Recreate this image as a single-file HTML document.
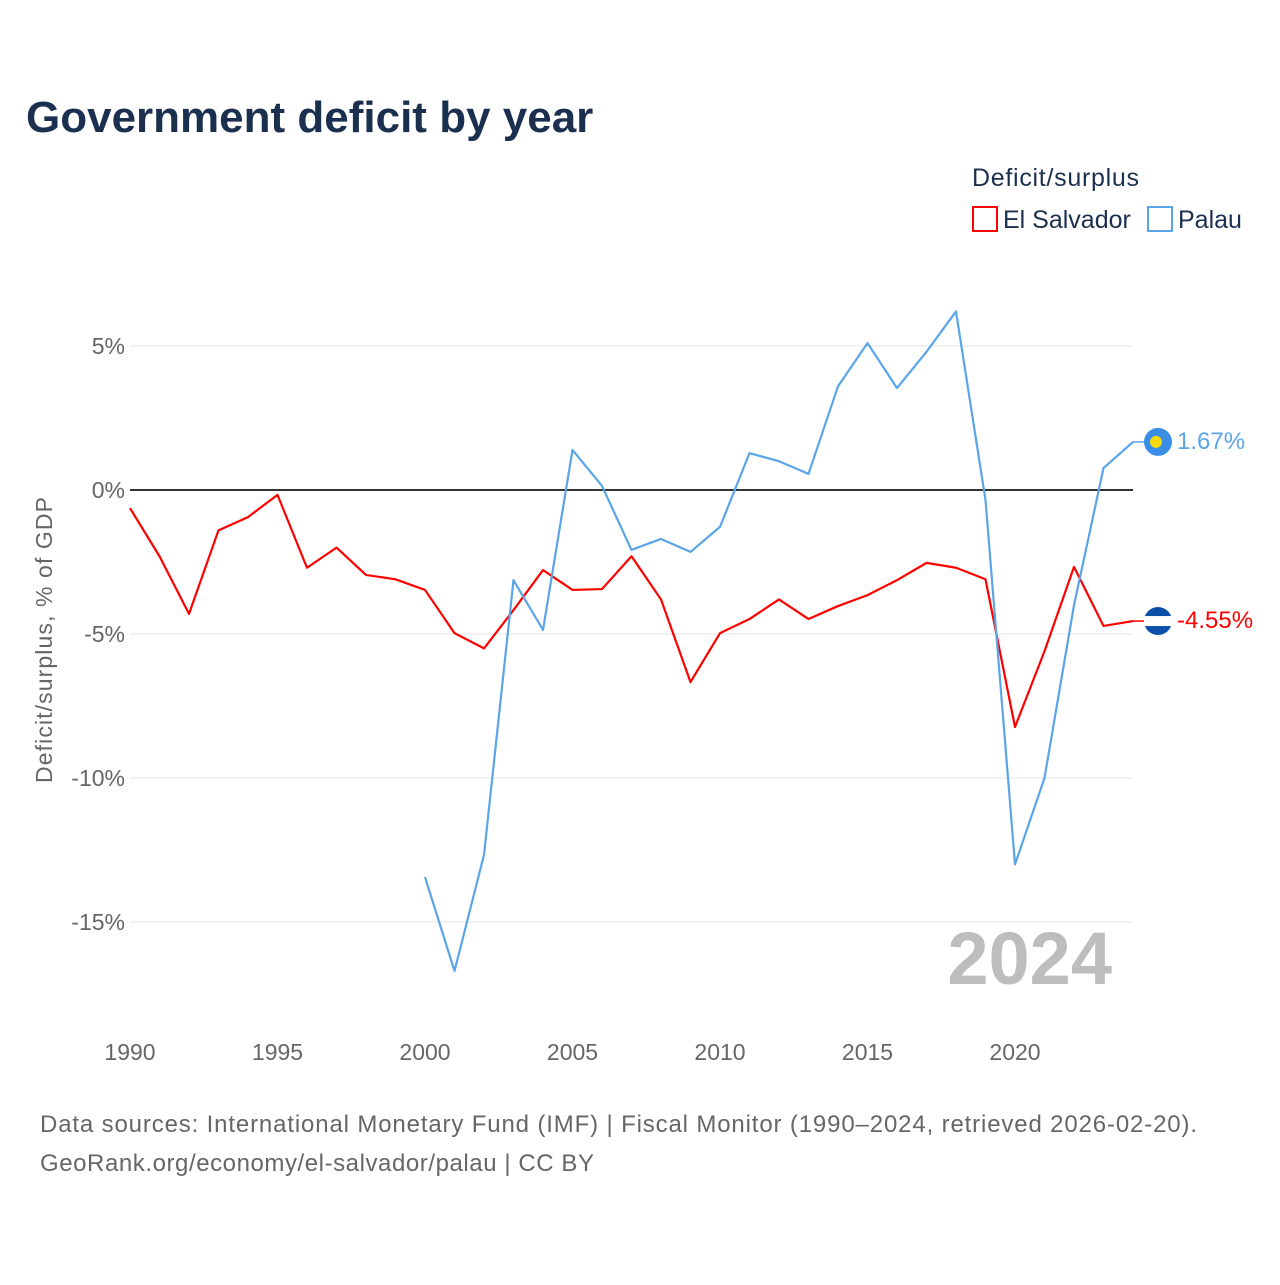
<!DOCTYPE html>
<html><head><meta charset="utf-8"><style>
body{margin:0;background:#fff;font-family:"Liberation Sans",sans-serif}
#wrap{position:relative;width:1280px;height:1280px}
</style></head><body>
<div id="wrap">
<svg id="chart" width="1280" height="1280" xmlns="http://www.w3.org/2000/svg">
<text x="26" y="132" font-size="44" font-weight="bold" fill="#1b2f4f">Government deficit by year</text>
<text x="972" y="186" font-size="25" fill="#1b2f4f" textLength="167">Deficit/surplus</text>
<g><rect x="973" y="207" width="24" height="24" fill="none" stroke="#ff0000" stroke-width="2"/><text x="1003" y="228" font-size="25" fill="#1b2f4f">El Salvador</text></g>
<g><rect x="1148" y="207" width="24" height="24" fill="none" stroke="#5aa5e8" stroke-width="2"/><text x="1178" y="228" font-size="25" fill="#1b2f4f">Palau</text></g>
<g id="grid"></g><g id="xt"></g><g id="series"></g>
<text transform="translate(52,640) rotate(-90)" text-anchor="middle" font-size="23" fill="#666" textLength="286">Deficit/surplus, % of GDP</text>
<text x="1112" y="984" text-anchor="end" font-size="74" font-weight="bold" fill="#bdbdbd">2024</text>
<text x="40" y="1132" font-size="24" fill="#666" textLength="1157">Data sources: International Monetary Fund (IMF) | Fiscal Monitor (1990–2024, retrieved 2026-02-20).</text>
<text x="40" y="1171" font-size="24" fill="#666" textLength="554">GeoRank.org/economy/el-salvador/palau | CC BY</text>
</svg></div>
<script>
const years=[1990,1991,1992,1993,1994,1995,1996,1997,1998,1999,2000,2001,2002,2003,2004,2005,2006,2007,2008,2009,2010,2011,2012,2013,2014,2015,2016,2017,2018,2019,2020,2021,2022,2023,2024];
const elSalvador=[-0.63,-2.3,-4.3,-1.4,-0.94,-0.17,-2.7,-2.0,-2.95,-3.1,-3.47,-4.97,-5.5,-4.17,-2.78,-3.47,-3.44,-2.3,-3.8,-6.67,-4.97,-4.48,-3.8,-4.48,-4.03,-3.65,-3.13,-2.53,-2.7,-3.1,-8.23,-5.6,-2.67,-4.72,-4.55];
const palauYears=[2000,2001,2002,2003,2004,2005,2006,2007,2008,2009,2010,2011,2012,2013,2014,2015,2016,2017,2018,2019,2020,2021,2022,2023,2024];
const palau=[-13.44,-16.7,-12.67,-3.13,-4.86,1.39,0.14,-2.08,-1.7,-2.15,-1.28,1.28,1.0,0.56,3.6,5.1,3.54,4.8,6.2,-0.35,-13.0,-10.0,-4.0,0.76,1.67];
const yTicks=[5,0,-5,-10,-15];
const xTicks=[1990,1995,2000,2005,2010,2015,2020];
const NS="http://www.w3.org/2000/svg";
const X=y=>130+(y-1990)*29.5;
const Y=v=>490-v*28.8;
function mk(t,a,p){const e=document.createElementNS(NS,t);for(const k in a)e.setAttribute(k,a[k]);p.appendChild(e);return e;}
const grid=document.getElementById('grid');
yTicks.forEach(v=>{
 const l=mk('line',{x1:130,x2:1133,y1:Y(v),y2:Y(v),stroke:v===0?'#333':'#e6e6e6','stroke-width':v===0?2:1},grid);
 
 
 const t=mk('text',{x:125,y:Y(v)+8,'text-anchor':'end','font-size':23,fill:'#666'},grid);
 t.textContent=v+'%';
 
 
});
const xt=document.getElementById('xt');
xTicks.forEach(y=>{
 const t=mk('text',{x:X(y),y:1060,'text-anchor':'middle','font-size':23,fill:'#666'},xt);
 t.textContent=y;
 
 
});
const s=document.getElementById('series');
function line(xs,vs,col,name){
 const p=mk('polyline',{points:xs.map((x,i)=>X(x)+','+Y(vs[i])).join(' '),fill:'none',stroke:col,'stroke-width':2.2,'stroke-linejoin':'round'},s);
 
 
}
line(years,elSalvador,'#ff0000','el-salvador-line');
line(palauYears,palau,'#5aa5e8','palau-line');
function endLabel(v,col,fc,name,txt){
 const y=Y(v);
 mk('line',{x1:1133,x2:1145,y1:y,y2:y,stroke:col,'stroke-width':1.5},s);
 const c=mk('circle',{cx:1158,cy:y,r:14,fill:fc},s);
 
 
 const t=mk('text',{x:1177,y:y+7,'font-size':24,fill:col},s);
 t.textContent=txt;
 
 
}
endLabel(palau[palau.length-1],'#5aa5e8','#3a8ee6','palau',palau[palau.length-1].toFixed(2)+'%');
mk('circle',{cx:1156,cy:Y(palau[palau.length-1]),r:6,fill:'#f5d90a'},s);
endLabel(elSalvador[elSalvador.length-1],'#ff0000','#0b4fa8','el-salvador',elSalvador[elSalvador.length-1].toFixed(2)+'%');
mk('rect',{x:1144,y:Y(elSalvador[elSalvador.length-1])-5,width:28,height:10,fill:'#fff'},s);
</script>
</body></html>
